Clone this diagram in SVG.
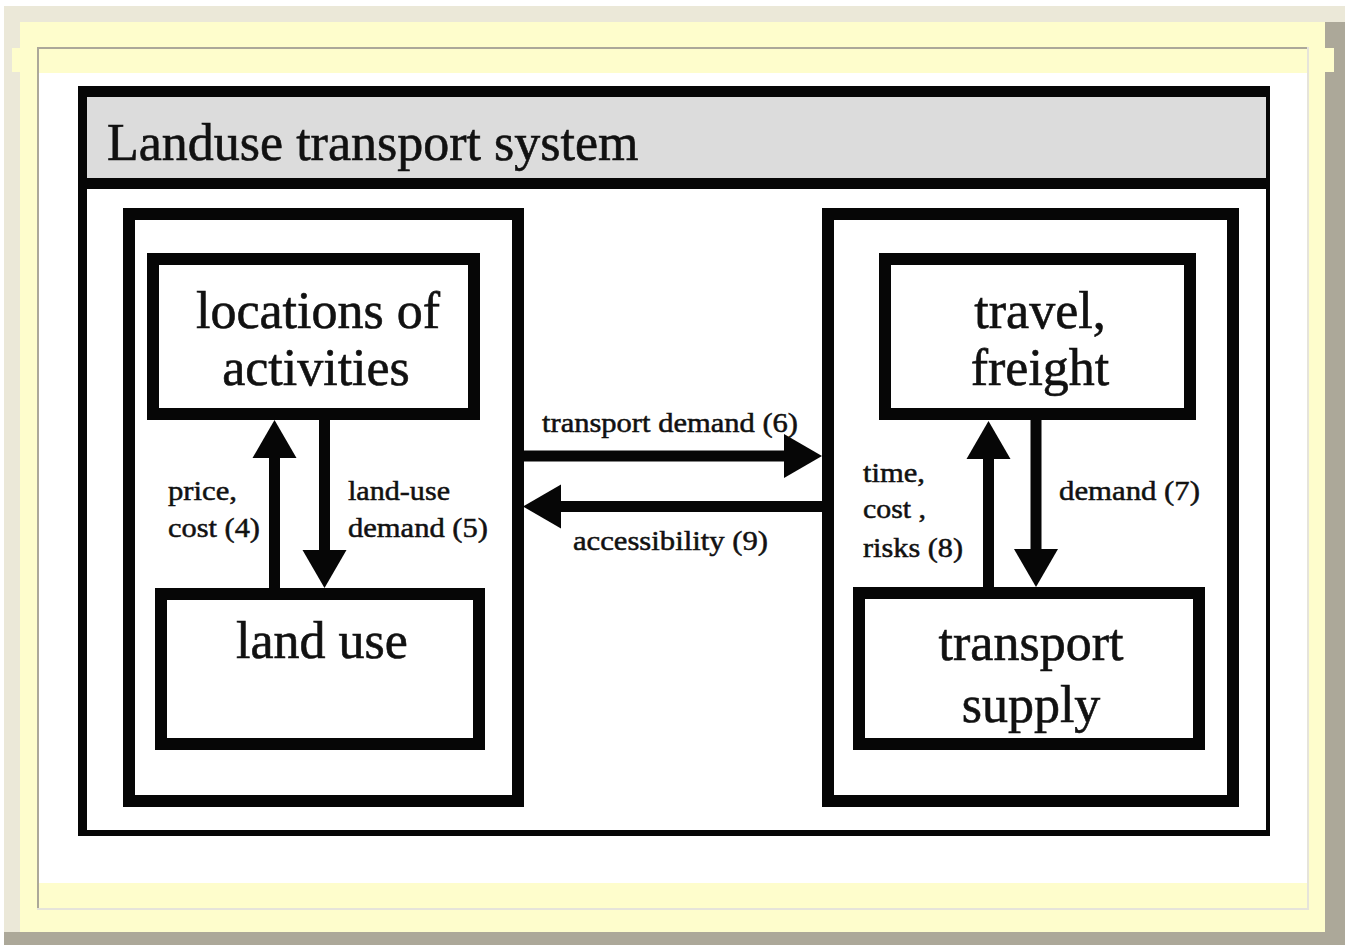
<svg xmlns="http://www.w3.org/2000/svg" width="1345" height="945" viewBox="0 0 1345 945">
  <style>
    .frame { fill: #ebe8d8; }
    .shadow { fill: #aca899; }
    .paper { fill: #fefdcc; }
    .box { fill: #ffffff; stroke: #060606; stroke-width: 12; }
    .big { font-family: "Liberation Serif", "Times New Roman", serif; font-size: 52px; fill: #111111; stroke: #111111; stroke-width: 0.6; }
    .lbl { font-family: "Liberation Serif", "Times New Roman", serif; font-size: 27px; fill: #111111; stroke: #111111; stroke-width: 0.5; }
    .mid { text-anchor: middle; }
    .shaft { stroke: #060606; stroke-width: 11; fill: none; marker-end: url(#head); }
  </style>
  <defs>
    <marker id="head" markerUnits="userSpaceOnUse" markerWidth="40" markerHeight="44" refX="0" refY="22" orient="auto" overflow="visible">
      <path d="M0,0 L38,22 L0,44 Z" fill="#060606"/>
    </marker>
  </defs>

  <!-- page frame -->
  <g id="page">
    <rect x="0" y="0" width="1345" height="945" fill="#ffffff"/>
    <rect class="frame" x="4" y="6" width="1341" height="926"/>
    <rect class="shadow" x="1325" y="22" width="20" height="923"/>
    <rect class="shadow" x="4" y="932" width="1341" height="13"/>
    <rect class="paper" x="20" y="22" width="1305" height="910"/>
    <rect class="paper" x="12" y="48" width="8" height="24"/>
    <rect class="paper" x="1325" y="48" width="9" height="24"/>
    <rect x="37" y="47" width="1272" height="2" fill="#aca899"/>
    <rect x="37" y="47" width="2" height="861" fill="#aca899"/>
    <rect x="1307" y="47" width="2" height="863" fill="#e6e4da"/>
    <rect x="37" y="908" width="1272" height="2" fill="#e6e4da"/>
    <rect x="39" y="73" width="1268" height="810" fill="#ffffff"/>
  </g>

  <!-- outer system box -->
  <g id="system">
    <rect x="78" y="86" width="1192" height="750" fill="#060606"/>
    <rect x="87" y="97" width="1179" height="81" fill="#dcdcdc"/>
    <rect x="87" y="189" width="1179" height="641" fill="#ffffff"/>
    <text class="big" x="107" y="160">Landuse transport system</text>
  </g>

  <!-- containers -->
  <g id="landuse-subsystem">
    <rect class="box" x="129" y="214" width="389" height="587"/>
  </g>
  <g id="transport-subsystem">
    <rect class="box" x="828" y="214" width="405" height="587"/>
  </g>

  <!-- nodes -->
  <g id="locations">
    <rect class="box" x="153" y="259" width="321" height="155"/>
    <text class="big mid" x="318" y="328">locations of</text>
    <text class="big mid" x="316" y="385">activities</text>
  </g>
  <g id="landuse">
    <rect class="box" x="161" y="594" width="318" height="150"/>
    <text class="big mid" x="322" y="658">land use</text>
  </g>
  <g id="travel">
    <rect class="box" x="885" y="259" width="305" height="155"/>
    <text class="big mid" x="1040" y="328">travel,</text>
    <text class="big mid" x="1040" y="385">freight</text>
  </g>
  <g id="supply">
    <rect class="box" x="859" y="593" width="340" height="151"/>
    <text class="big mid" x="1031" y="660">transport</text>
    <text class="big mid" x="1031" y="722">supply</text>
  </g>

  <!-- connectors -->
  <g id="connectors">
    <line class="shaft" x1="274.5" y1="588" x2="274.5" y2="458"/>
    <line class="shaft" x1="324.5" y1="420" x2="324.5" y2="550"/>
    <line class="shaft" x1="988.5" y1="587" x2="988.5" y2="459"/>
    <line class="shaft" x1="1036" y1="420" x2="1036" y2="549"/>
    <line class="shaft" x1="524" y1="456" x2="784" y2="456"/>
    <line class="shaft" x1="822" y1="506.5" x2="561" y2="506.5"/>
  </g>

  <!-- connector labels -->
  <g id="labels">
    <text class="lbl" x="168" y="500" textLength="69" lengthAdjust="spacingAndGlyphs">price,</text>
    <text class="lbl" x="168" y="537" textLength="92" lengthAdjust="spacingAndGlyphs">cost (4)</text>
    <text class="lbl" x="348" y="500" textLength="102" lengthAdjust="spacingAndGlyphs">land-use</text>
    <text class="lbl" x="348" y="537" textLength="140" lengthAdjust="spacingAndGlyphs">demand (5)</text>
    <text class="lbl" x="542" y="432" textLength="256" lengthAdjust="spacingAndGlyphs">transport demand (6)</text>
    <text class="lbl" x="573" y="550" textLength="195" lengthAdjust="spacingAndGlyphs">accessibility (9)</text>
    <text class="lbl" x="863" y="482" textLength="62" lengthAdjust="spacingAndGlyphs">time,</text>
    <text class="lbl" x="863" y="518" textLength="63" lengthAdjust="spacingAndGlyphs">cost ,</text>
    <text class="lbl" x="863" y="557" textLength="100" lengthAdjust="spacingAndGlyphs">risks (8)</text>
    <text class="lbl" x="1059" y="500" textLength="141" lengthAdjust="spacingAndGlyphs">demand (7)</text>
  </g>
</svg>
